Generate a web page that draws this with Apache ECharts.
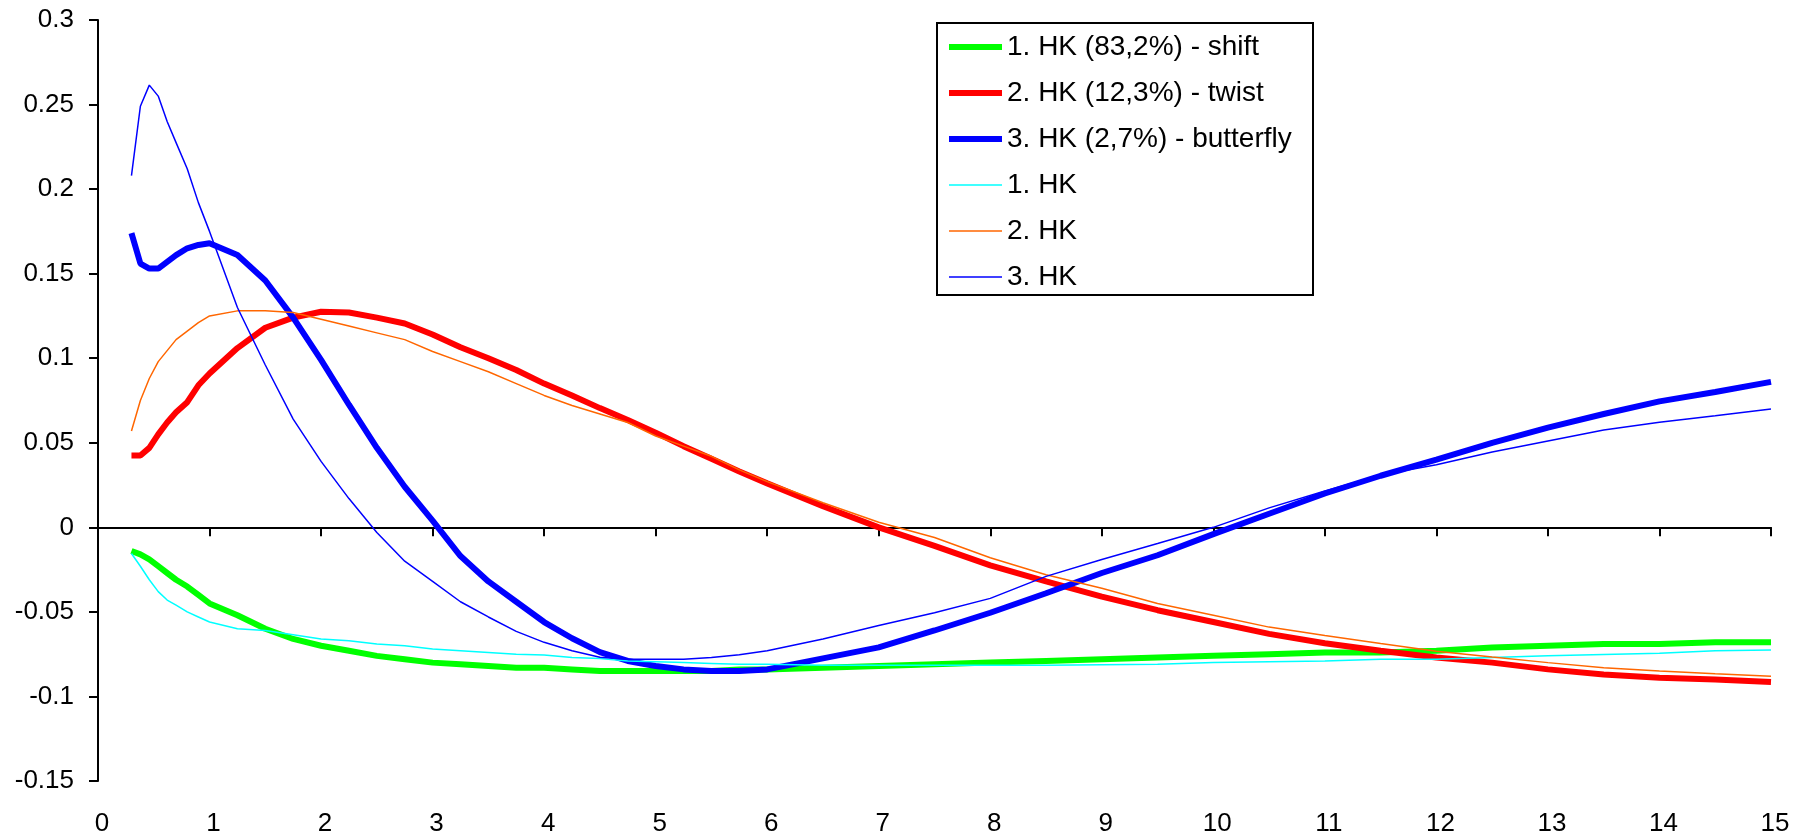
<!DOCTYPE html>
<html>
<head>
<meta charset="utf-8">
<title>HK</title>
<script src="https://cdn.jsdelivr.net/npm/echarts@6/dist/echarts.min.js"></script>
<style>
  html, body { margin: 0; padding: 0; background: #fff; }
  #chart { width: 1806px; height: 837px; }
</style>
</head>
<body>
<div id="chart"></div>
<script>
// Laufzeit (x) und Faktorladungen
var xs = [0.3, 0.38, 0.46, 0.54, 0.62, 0.7, 0.8, 0.9, 1.0,
  1.25, 1.5, 1.75, 2.0, 2.25, 2.5, 2.75, 3.0, 3.25, 3.5, 3.75, 4.0, 4.25, 4.5, 4.75, 5.0, 5.25, 5.5, 5.75, 6.0,
  6.5, 7.0, 7.5, 8.0, 8.5, 9.0, 9.5, 10.0, 10.5, 11.0, 11.5, 12.0, 12.5, 13.0, 13.5, 14.0, 14.5, 15.0]

var shift = [-0.014, -0.016, -0.019, -0.023, -0.027, -0.031, -0.035, -0.040, -0.045,
  -0.052, -0.060, -0.066, -0.070, -0.073, -0.076, -0.078, -0.080, -0.081, -0.082, -0.083, -0.083, -0.084, -0.085, -0.085, -0.085, -0.085, -0.085, -0.084, -0.084,
  -0.083, -0.082, -0.081, -0.080, -0.079, -0.078, -0.077, -0.076, -0.075, -0.074, -0.074, -0.073, -0.071, -0.070, -0.069, -0.069, -0.068, -0.068]

var twist = [0.0425, 0.0425, 0.047, 0.055, 0.062, 0.068, 0.074, 0.084, 0.091,
  0.106, 0.118, 0.124, 0.1275, 0.127, 0.124, 0.1205, 0.114, 0.1065, 0.100, 0.093, 0.085, 0.078, 0.0705, 0.0635, 0.056, 0.048, 0.0405, 0.033, 0.026,
  0.0125, 0.000, -0.011, -0.0225, -0.032, -0.041, -0.049, -0.056, -0.063, -0.0685, -0.073, -0.077, -0.080, -0.084, -0.087, -0.089, -0.090, -0.0915]

var butterfly = [0.174, 0.156, 0.153, 0.153, 0.157, 0.161, 0.165, 0.167, 0.168,
  0.161, 0.146, 0.124, 0.099, 0.0725, 0.047, 0.024, 0.004, -0.017, -0.032, -0.044, -0.056, -0.0656, -0.0738, -0.079, -0.082, -0.084, -0.085, -0.085, -0.084,
  -0.0775, -0.071, -0.061, -0.0505, -0.039, -0.027, -0.0165, -0.004, 0.008, 0.020, 0.0305, 0.040, 0.050, 0.059, 0.067, 0.0745, 0.080, 0.086]

var hk1 = [-0.0155, -0.023, -0.031, -0.038, -0.043, -0.046, -0.050, -0.053, -0.056,
  -0.060, -0.061, -0.0635, -0.066, -0.067, -0.069, -0.070, -0.072, -0.073, -0.074, -0.075, -0.0755, -0.077, -0.0775, -0.079, -0.0795, -0.080, -0.0805, -0.081, -0.081,
  -0.0815, -0.0815, -0.0815, -0.0815, -0.0815, -0.0812, -0.081, -0.080, -0.0795, -0.079, -0.078, -0.078, -0.077, -0.076, -0.0752, -0.0744, -0.073, -0.0726]

var hk2 = [0.057, 0.075, 0.088, 0.098, 0.1045, 0.111, 0.116, 0.121, 0.125,
  0.128, 0.128, 0.127, 0.123, 0.119, 0.115, 0.111, 0.104, 0.098, 0.092, 0.085, 0.078, 0.072, 0.067, 0.062, 0.054, 0.048, 0.042, 0.034, 0.027,
  0.0145, 0.003, -0.006, -0.018, -0.028, -0.036, -0.045, -0.052, -0.059, -0.064, -0.0687, -0.0733, -0.0767, -0.080, -0.083, -0.085, -0.0866, -0.088]

var hk3 = [0.208, 0.249, 0.2615, 0.255, 0.240, 0.2275, 0.212, 0.192, 0.175,
  0.130, 0.096, 0.064, 0.039, 0.017, -0.003, -0.020, -0.032, -0.044, -0.053, -0.0615, -0.068, -0.073, -0.0768, -0.078, -0.078, -0.078, -0.077, -0.0753, -0.073,
  -0.066, -0.058, -0.0505, -0.042, -0.029, -0.019, -0.0096, 0.000, 0.0115, 0.0215, 0.031, 0.037, 0.0445, 0.051, 0.0575, 0.0622, 0.066, 0.070]

var names = ['1. HK (83,2%) - shift', '2. HK (12,3%) - twist', '3. HK (2,7%) - butterfly', '1. HK', '2. HK', '3. HK']
var colors = ['#00ff00', '#ff0000', '#0000ff', '#00ffff', '#ff6600', '#0000ff']
var widths = [6, 6, 6, 1.5, 1.5, 1.5]
var values = [shift, twist, butterfly, hk1, hk2, hk3]

function pairs (ys) {
  var out = []
  for (var i = 0; i < xs.length; i++) {
    out.push([xs[i], ys[i]])
  }
  return out
}

function make_series () {
  var list = []
  for (var i = 0; i < names.length; i++) {
    list.push({
      name: names[i],
      type: 'line',
      xAxisIndex: 0,
      symbol: 'none',
      color: colors[i],
      lineStyle: { color: colors[i], width: widths[i] },
      data: pairs(values[i])
    })
  }
  return list
}

// legend sample: a bar of the line's width centred in a 53x30 box
function legend_items () {
  var items = []
  for (var i = 0; i < names.length; i++) {
    var w = widths[i]
    var top = 15 - w / 2
    items.push({
      name: names[i],
      icon: 'path://M0,0M53,30M0,' + top + 'h53v' + w + 'h-53z',
      itemStyle: { color: colors[i], borderWidth: 0 }
    })
  }
  return items
}

var font = '"Liberation Sans", Arial, sans-serif'
var chart = echarts.init(document.getElementById('chart'))

var option = {
  animation: false,
  backgroundColor: '#fff',
  grid: { left: 98, right: 35, top: 20, bottom: 55 },
  graphic: [{
    type: 'rect',
    shape: { x: 937, y: 23, width: 376, height: 272 },
    style: { fill: '#fff', stroke: '#000', lineWidth: 2 },
    z: 0
  }],
  legend: {
    orient: 'vertical',
    left: 949,
    top: 32,
    padding: 0,
    itemWidth: 53,
    itemHeight: 30,
    itemGap: 16,
    symbolKeepAspect: true,
    itemStyle: { borderWidth: 0 },
    data: legend_items(),
    textStyle: { color: '#000', fontSize: 28, fontFamily: font, lineHeight: 30 }
  },
  xAxis: [
    {
      type: 'value',
      min: 0,
      max: 15,
      interval: 1,
      axisLine: { onZero: true, lineStyle: { color: '#000', width: 2 } },
      axisTick: { show: true, length: 9, lineStyle: { color: '#000', width: 2 } },
      axisLabel: { show: false },
      splitLine: { show: false }
    },
    {
      type: 'value',
      position: 'bottom',
      min: 0,
      max: 15,
      interval: 1,
      axisLine: { show: false, onZero: false },
      axisTick: { show: false },
      axisLabel: { margin: 30, padding: [0, 0, 0, 8], color: '#000', fontSize: 26, fontFamily: font },
      splitLine: { show: false }
    }
  ],
  yAxis: {
    type: 'value',
    min: -0.15,
    max: 0.3,
    interval: 0.05,
    axisLine: { show: true, onZero: false, lineStyle: { color: '#000', width: 2 } },
    axisTick: { show: true, length: 9, lineStyle: { color: '#000', width: 2 } },
    axisLabel: { margin: 24, color: '#000', fontSize: 26, fontFamily: font },
    splitLine: { show: false }
  },
  series: make_series()
}

chart.setOption(option)
</script>
</body>
</html>
